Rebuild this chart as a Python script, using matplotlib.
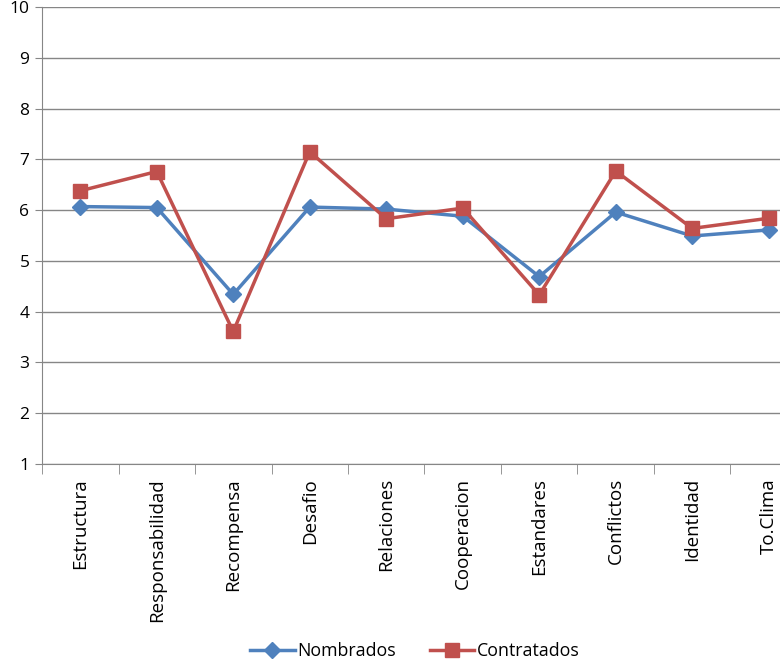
#------------------- Importing the necessary libraries -------------------
import matplotlib
matplotlib.use("Agg")
import matplotlib.pyplot as plt
import numpy as np

#------------------- Chart data -------------------
categories = ['Estructura', 'Responsabilidad', 'Recompensa', 'Desafio', 'Relaciones',
              'Cooperacion', 'Estandares', 'Conflictos', 'Identidad', 'To.Clima']
nombrados = [6.07, 6.05, 4.34, 6.06, 6.02, 5.88, 4.69, 5.96, 5.49, 5.61]
contratados = [6.38, 6.76, 3.61, 7.15, 5.83, 6.04, 4.33, 6.77, 5.64, 5.84]
y_ticks = [1, 2, 3, 4, 5, 6, 7, 8, 9, 10]

plt.rcParams['font.family'] = ['Open Sans', 'DejaVu Sans']

#------------------- Figure -------------------
fig = plt.figure(figsize=(7.8, 6.63), dpi=100)
# plot area is wider than the picture: last category is cut at the right edge
ax = fig.add_axes([42 / 780, 1 - 464 / 663, 765 / 780, 457 / 663])

x = np.arange(len(categories))
ax.plot(x, nombrados, color='#4F81BD', lw=2.5, marker='D', markersize=8.5,
        label='Nombrados', zorder=3)
ax.plot(x, contratados, color='#C0504D', lw=2.5, marker='s', markersize=10.5,
        label='Contratados', zorder=4)

# axes and grid
ax.set_xlim(-0.5, len(categories) - 0.5)
ax.set_ylim(1, 10)
ax.set_yticks(y_ticks)
ax.set_yticklabels([str(v) for v in y_ticks], fontsize=12.5)
ax.yaxis.grid(True, color='#868686', lw=1)
ax.set_axisbelow(True)

ax.set_xticks(x)
ax.set_xticklabels(categories, rotation=90, fontsize=13.5)
ax.set_xticks(np.arange(-0.5, len(categories)), minor=True)
ax.tick_params(axis='x', which='major', length=0, pad=10)
ax.tick_params(axis='x', which='minor', length=7, color='#868686', direction='out')
ax.tick_params(axis='y', length=5, color='#868686', direction='out', pad=4)

for side in ['top', 'right']:
    ax.spines[side].set_visible(False)
for side in ['left', 'bottom']:
    ax.spines[side].set_color('#868686')

# legend at the bottom
fig.legend(loc='lower center', bbox_to_anchor=(0.532, -0.02), ncol=2, frameon=False,
           fontsize=12.8, handlelength=2.5, columnspacing=1.9, handletextpad=0.15)

plt.savefig("out.png", dpi=100)
